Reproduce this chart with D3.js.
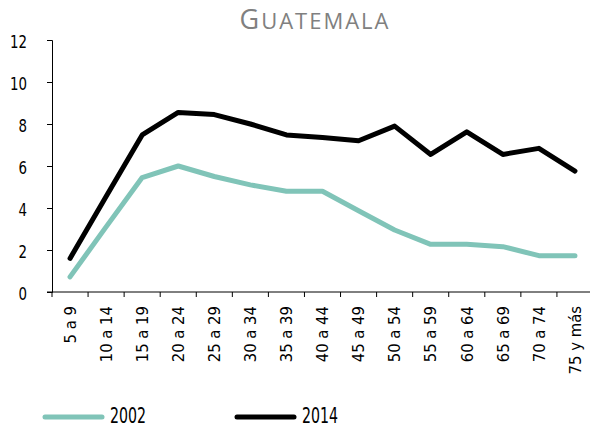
<!DOCTYPE html>
<html lang="es">
<head>
    <meta charset="UTF-8">
    <title>Guatemala</title>
    <script src="https://cdn.jsdelivr.net/npm/d3@7"></script>
    <style>
        body { margin: 0; background: #fff; overflow: hidden; }
        svg { display: block; }
        .tick text, .legend text { font-family: "DejaVu Sans Condensed", "DejaVu Sans", sans-serif; font-stretch: condensed; fill: #000; }
    </style>
</head>
<body>
    <svg id="chart" width="590" height="427"></svg>
    <script>
        // age groups
        const categories = ["5 a 9", "10 a 14", "15 a 19", "20 a 24", "25 a 29", "30 a 34", "35 a 39",
            "40 a 44", "45 a 49", "50 a 54", "55 a 59", "60 a 64", "65 a 69", "70 a 74", "75 y más"];
        const values2002 = [0.72, 3.1, 5.45, 6.0, 5.5, 5.1, 4.8, 4.8, 3.87, 2.95, 2.27, 2.27, 2.16, 1.73, 1.73];
        const values2014 = [1.6, 4.55, 7.48, 8.55, 8.45, 8.0, 7.48, 7.36, 7.2, 7.9, 6.55, 7.63, 6.55, 6.84, 5.76];
        const yTicks = [0, 2, 4, 6, 8, 10, 12];

        const series = [
            { name: "2002", values: values2002, color: "#80c4b8" },
            { name: "2014", values: values2014, color: "#000000" }
        ];

        const svg = d3.select("#chart");
        const m = { left: 52, right: 593, top: 40, bottom: 292 };

        const x = d3.scaleBand().domain(categories).range([m.left, m.right]);
        const y = d3.scaleLinear().domain([0, 12]).range([m.bottom, m.top]);

        // title, small caps built by hand
        const title = svg.append("text")
            .attr("x", 315).attr("y", 29)
            .attr("text-anchor", "middle")
            .attr("font-family", "'Open Sans', Lato, sans-serif")
            .attr("fill", "#808080")
            .attr("letter-spacing", 2);
        title.append("tspan").attr("font-size", 27).text("G");
        title.append("tspan").attr("font-size", 22).text("UATEMALA");

        // y axis
        const yAxis = svg.append("g")
            .attr("transform", `translate(${m.left},0)`)
            .call(d3.axisLeft(y).tickValues(yTicks).tickSize(5));
        yAxis.selectAll("text")
            .attr("font-size", 17)
            .attr("text-anchor", "end")
            .attr("x", -25)
            .attr("dy", "0.42em")
            .attr("textLength", d => d >= 10 ? 17 : 8.5)
            .attr("lengthAdjust", "spacingAndGlyphs");

        // x axis, ticks on band edges
        const xAxis = svg.append("g")
            .attr("transform", `translate(0,${m.bottom})`)
            .call(d3.axisBottom(x).tickSize(0).tickPadding(0));
        xAxis.select(".domain").attr("d", `M${m.left - 5},0H${m.right}`);
        xAxis.selectAll(".tick text")
            .attr("font-size", 16.5)
            .attr("transform", "rotate(-90)")
            .attr("x", -14).attr("y", 0).attr("dy", "0.35em")
            .attr("text-anchor", "end");
        svg.append("g").selectAll("line")
            .data(categories)
            .join("line")
            .attr("x1", d => x(d)).attr("x2", d => x(d))
            .attr("y1", m.bottom).attr("y2", m.bottom + 5)
            .attr("stroke", "#000");
        svg.selectAll(".domain").attr("stroke", "#000");

        // lines
        const line = d3.line()
            .x((d, i) => x(categories[i]) + x.bandwidth() / 2)
            .y(d => y(d));

        svg.append("g").selectAll("path")
            .data(series)
            .join("path")
            .attr("d", d => line(d.values))
            .attr("fill", "none")
            .attr("stroke", d => d.color)
            .attr("stroke-width", 5)
            .attr("stroke-linecap", "round")
            .attr("stroke-linejoin", "round");

        // legend
        const legendX = [45, 237];
        const legend = svg.append("g").attr("class", "legend").selectAll("g")
            .data(series)
            .join("g")
            .attr("transform", (d, i) => `translate(${legendX[i]},417)`);
        legend.append("line")
            .attr("x1", 0).attr("x2", 57)
            .attr("stroke", d => d.color)
            .attr("stroke-width", 5)
            .attr("stroke-linecap", "round");
        legend.append("text")
            .attr("x", 65)
            .attr("dy", "0.3em")
            .attr("font-size", 21)
            .attr("textLength", 36)
            .attr("lengthAdjust", "spacingAndGlyphs")
            .text(d => d.name);
    </script>
</body>
</html>
